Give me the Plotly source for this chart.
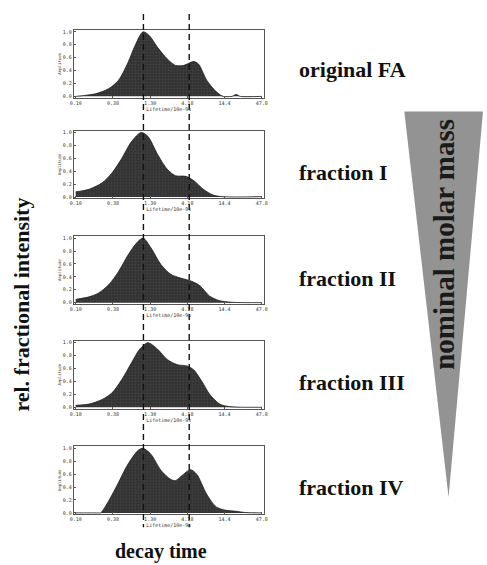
import plotly.graph_objects as go

W, H = 487, 565

# ---------------- data ----------------
tick_labels = ["0.10", "0.38", "1.30", "4.18", "14.4", "47.8"]   # lifetime ticks (log-spaced)
tick_pos = [0, 1, 2, 3, 4, 5]
marker_pos = [1.82, 3.05]                                       # dashed reference lifetimes

names = ["original FA", "fraction I", "fraction II", "fraction III", "fraction IV"]

x_fa = [0.0, 0.53, 0.89, 1.15, 1.41, 1.59, 1.81, 1.98, 2.20, 2.46, 2.68, 2.90, 3.17, 3.30, 3.52, 3.78, 3.96, 4.20, 4.31, 4.42, 5.0]
y_fa = [0.0, 0.04, 0.12, 0.25, 0.53, 0.78, 1.0, 0.94, 0.76, 0.58, 0.48, 0.48, 0.54, 0.50, 0.25, 0.07, 0.0, 0.0, 0.03, 0.0, 0.0]

x_f1 = [0.0, 0.36, 0.71, 0.97, 1.24, 1.50, 1.76, 1.94, 2.20, 2.46, 2.68, 2.96, 3.18, 3.43, 3.69, 3.96, 5.0]
y_f1 = [0.08, 0.12, 0.22, 0.37, 0.60, 0.86, 1.0, 0.94, 0.66, 0.43, 0.33, 0.32, 0.25, 0.12, 0.03, 0.005, 0.005]

x_f2 = [0.0, 0.36, 0.62, 0.89, 1.15, 1.41, 1.63, 1.81, 2.02, 2.29, 2.55, 2.82, 3.12, 3.34, 3.60, 3.87, 4.22, 5.0]
y_f2 = [0.05, 0.09, 0.15, 0.28, 0.48, 0.74, 0.92, 1.0, 0.85, 0.59, 0.44, 0.38, 0.33, 0.26, 0.10, 0.03, 0.005, 0.0]

x_f3 = [0.0, 0.36, 0.71, 0.97, 1.24, 1.50, 1.72, 1.94, 2.20, 2.46, 2.73, 2.99, 3.17, 3.39, 3.60, 3.87, 4.13, 5.0]
y_f3 = [0.03, 0.05, 0.12, 0.22, 0.43, 0.69, 0.90, 1.0, 0.90, 0.74, 0.66, 0.64, 0.58, 0.40, 0.20, 0.05, 0.01, 0.0]

x_f4 = [0.0, 0.62, 0.67, 0.89, 1.15, 1.41, 1.68, 1.81, 2.02, 2.29, 2.55, 2.68, 2.86, 3.08, 3.25, 3.52, 3.78, 4.04, 4.31, 4.57, 5.0]
y_f4 = [0.0, 0.0, 0.0, 0.19, 0.47, 0.76, 0.97, 1.0, 0.91, 0.66, 0.52, 0.50, 0.58, 0.67, 0.60, 0.29, 0.09, 0.04, 0.025, 0.005, 0.0]

series_x = [x_fa, x_f1, x_f2, x_f3, x_f4]
series_y = [y_fa, y_f1, y_f2, y_f3, y_f4]

# ---------------- layout helpers ----------------
def py(p):  # pixel y -> paper
    return 1 - p / H

def px(p):
    return p / W

box_top = [29, 130, 236, 341, 447]
box_h = 68
x_dom = [px(71), px(264)]
label_y = [69, 172, 278, 383, 488]

fig = go.Figure()
layout = dict(width=W, height=H, margin=dict(l=0, r=0, t=0, b=0),
              paper_bgcolor="white", plot_bgcolor="white", showlegend=False)

tickfont = dict(size=5, color="#333", family="DejaVu Sans Mono")
annotations = []
for i in range(5):
    k = "" if i == 0 else str(i + 1)
    fig.add_trace(go.Scatter(
        x=series_x[i], y=series_y[i], mode="lines",
        line=dict(color="#1e1e1e", width=0.8, shape="spline", smoothing=0.8),
        fill="tozeroy", fillcolor="#383838",
        fillpattern=dict(shape=".", bgcolor="#303030", fgcolor="#5a5a5a", size=3, solidity=0.35),
        xaxis="x" + k, yaxis="y" + k, hoverinfo="skip"))
    layout["xaxis" + k] = dict(
        domain=x_dom, range=[-0.05, 5.05], tickvals=tick_pos, ticktext=tick_labels,
        showline=True, mirror=True, linecolor="#555", linewidth=1, showgrid=False,
        zeroline=False, ticks="inside", ticklen=2, tickcolor="#555", tickfont=tickfont,
        anchor="y" + k,
        title=dict(text="Lifetime/10e-9s", font=dict(size=5, color="#333", family="DejaVu Sans Mono"), standoff=1))
    layout["yaxis" + k] = dict(
        domain=[py(box_top[i] + box_h), py(box_top[i])], range=[-0.02, 1.03],
        tickvals=[0, 0.2, 0.4, 0.6, 0.8, 1.0], ticktext=["0.0", "0.2", "0.4", "0.6", "0.8", "1.0"],
        showline=True, mirror=True, linecolor="#555", linewidth=1, showgrid=False,
        zeroline=False, ticks="inside", ticklen=2, tickcolor="#555", tickfont=tickfont,
        anchor="x" + k,
        title=dict(text="Amplitude", font=dict(size=4, color="#333", family="DejaVu Sans Mono"), standoff=1))
    annotations.append(dict(text="<b>%s</b>" % names[i], xref="paper", yref="paper",
                            x=px(298), y=py(label_y[i]), xanchor="left", yanchor="middle",
                            showarrow=False, font=dict(size=22, color="#111", family="Liberation Serif")))

# dashed reference lines through all panels
shapes = []
for m in marker_pos:
    shapes.append(dict(type="line", xref="x", yref="paper", x0=m, x1=m, y0=py(13), y1=py(528),
                       line=dict(color="#111", width=1.4, dash="6px,4px"), layer="above"))

# molar-mass wedge
shapes.append(dict(type="path", xref="paper", yref="paper",
                   path="M %f,%f L %f,%f L %f,%f Z" % (px(407), py(111), px(487), py(111), px(452), py(498)),
                   fillcolor="#939393", line=dict(width=0), layer="below"))

annotations += [
    dict(text="<b>nominal molar mass</b>", xref="paper", yref="paper", x=px(447), y=py(244),
         textangle=-90, showarrow=False, xanchor="center", yanchor="middle",
         font=dict(size=29, color="#1a1a1a", family="Liberation Serif")),
    dict(text="<b>rel. fractional intensity</b>", xref="paper", yref="paper", x=px(18), y=py(305),
         textangle=-90, showarrow=False, xanchor="center", yanchor="middle",
         font=dict(size=22, color="#111", family="Liberation Serif")),
    dict(text="<b>decay time</b>", xref="paper", yref="paper", x=px(160), y=py(552),
         showarrow=False, xanchor="center", yanchor="middle",
         font=dict(size=20, color="#111", family="Liberation Serif")),
]
layout["annotations"] = annotations
layout["shapes"] = shapes
fig.update_layout(**layout)
fig.write_html("out.html", config={"displayModeBar": False},
               post_script="document.body.style.margin='0px';")
